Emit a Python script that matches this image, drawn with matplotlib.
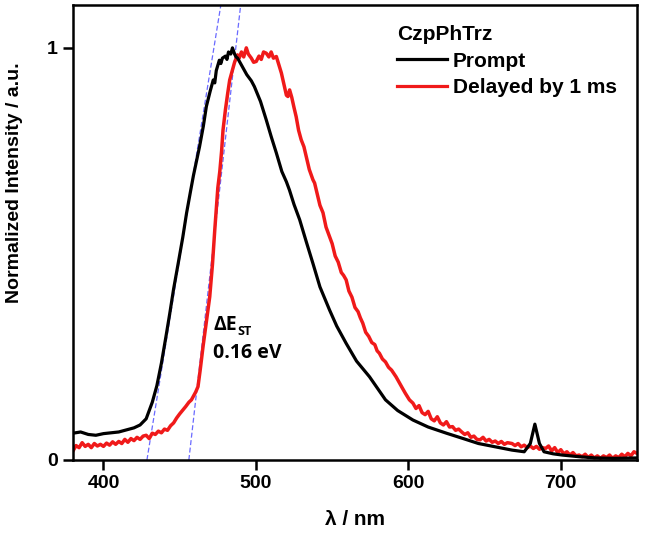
import numpy as np
import matplotlib
matplotlib.use("Agg")
from matplotlib import pyplot as plt

# prompt emission (black)
prompt_nm = [380, 385, 390, 395, 400, 405, 410, 415, 420, 424, 428, 432, 435, 438, 441,
             443.5, 446, 449, 452, 454.5, 457, 459, 461, 463, 465.5, 467.5, 470, 472, 473,
             474, 476, 477, 478, 480, 481, 482, 483.5, 484.6, 486, 487, 488, 491, 494, 497,
             499, 503, 506.8, 510, 513.4, 517, 520, 522, 525, 528.7, 533, 537.4, 542, 548.3,
             553, 559.2, 566, 574.5, 585, 593, 603, 613, 625, 636, 646, 657, 668, 676, 680,
             683, 686, 689, 695, 701, 712, 723, 735, 750]
prompt_int = [0.065, 0.068, 0.062, 0.060, 0.064, 0.066, 0.068, 0.073, 0.078, 0.085, 0.100,
              0.140, 0.180, 0.235, 0.300, 0.356, 0.415, 0.477, 0.540, 0.599, 0.650, 0.690,
              0.725, 0.760, 0.810, 0.858, 0.895, 0.922, 0.915, 0.945, 0.970, 0.962, 0.975,
              0.980, 0.972, 0.990, 0.985, 1.000, 0.985, 0.978, 0.975, 0.955, 0.935, 0.920,
              0.906, 0.870, 0.825, 0.785, 0.745, 0.700, 0.675, 0.655, 0.620, 0.583, 0.530,
              0.477, 0.420, 0.364, 0.325, 0.283, 0.240, 0.202, 0.146, 0.120, 0.097, 0.080,
              0.065, 0.052, 0.040, 0.032, 0.024, 0.020, 0.040, 0.087, 0.040, 0.020, 0.015,
              0.012, 0.008, 0.005, 0.004, 0.005]

# delayed emission, 1 ms (red)
delayed_nm = [380, 382, 384, 386, 388, 390, 392, 394, 396, 398, 400, 402, 404, 406, 408, 410,
              412, 414, 416, 418, 420, 422, 424, 426, 428, 430, 432, 434, 436, 438, 440, 442,
              444, 446, 448, 450, 452, 454, 456, 457.7, 459, 460.5, 462, 463.5, 465.3, 467.5,
              469.7, 471.5, 473, 475, 476.3, 477.5, 478.4, 480, 481.5, 482.8, 484.5, 486,
              487.9, 489, 490.5, 492, 493.7, 495, 497, 498.5, 500.2, 502, 503.5, 505, 506.8,
              508.5, 510, 511.5, 513.4, 515, 516.7, 518.5, 520, 521, 522.1, 523.5, 525, 526.4,
              528, 529.7, 531.5, 533, 535, 537.4, 538.5, 540.6, 542, 544, 546, 548.3, 550, 552,
              554, 556, 557.5, 559.2, 561, 563, 565, 567, 568.5, 570.1, 572, 574, 576, 578,
              579.5, 581, 583, 585, 587, 589, 591.9, 594, 596, 598, 600.7, 603, 605, 607, 609,
              611, 613, 615, 617, 619, 621, 623, 625, 627, 629, 631, 633, 635, 637, 639, 641,
              643, 645, 647, 649, 651, 653, 655, 657, 659, 661, 663, 665, 668, 670, 672, 674,
              676, 678, 680, 682, 684, 686, 688, 690, 692, 694, 696, 698, 700, 702, 704, 706,
              708, 710, 712, 714, 716, 718, 720, 722, 724, 726, 728, 730, 732, 734, 736, 738,
              740, 742, 744, 746, 748, 750]
delayed_int = [0.022, 0.035, 0.030, 0.042, 0.033, 0.038, 0.030, 0.040, 0.034, 0.038, 0.033,
               0.041, 0.036, 0.044, 0.038, 0.045, 0.040, 0.050, 0.043, 0.052, 0.047, 0.055,
               0.050, 0.058, 0.060, 0.052, 0.065, 0.062, 0.070, 0.066, 0.075, 0.072, 0.083,
               0.090, 0.102, 0.112, 0.121, 0.130, 0.140, 0.146, 0.155, 0.165, 0.178, 0.220,
               0.275, 0.335, 0.396, 0.475, 0.558, 0.660, 0.700, 0.750, 0.800, 0.850, 0.890,
               0.922, 0.945, 0.965, 0.983, 0.975, 0.990, 0.978, 1.000, 0.985, 0.975, 0.965,
               0.967, 0.980, 0.972, 0.990, 0.987, 0.978, 0.990, 0.975, 0.979, 0.960, 0.939,
               0.910, 0.885, 0.882, 0.898, 0.880, 0.855, 0.833, 0.800, 0.777, 0.760, 0.736,
               0.705, 0.680, 0.672, 0.639, 0.618, 0.600, 0.565, 0.542, 0.525, 0.495, 0.480,
               0.455, 0.448, 0.437, 0.410, 0.395, 0.370, 0.360, 0.345, 0.332, 0.310, 0.300,
               0.285, 0.280, 0.265, 0.259, 0.245, 0.238, 0.225, 0.218, 0.202, 0.188, 0.175,
               0.162, 0.146, 0.138, 0.125, 0.132, 0.115, 0.110, 0.118, 0.100, 0.095, 0.105,
               0.090, 0.085, 0.093, 0.080, 0.081, 0.072, 0.075, 0.068, 0.062, 0.066, 0.055,
               0.058, 0.050, 0.049, 0.055, 0.046, 0.050, 0.043, 0.046, 0.040, 0.045, 0.038,
               0.042, 0.040, 0.035, 0.040, 0.032, 0.036, 0.030, 0.034, 0.028, 0.033, 0.026,
               0.030, 0.028, 0.034, 0.022, 0.030, 0.018, 0.025, 0.015, 0.020, 0.012, 0.018,
               0.010, 0.012, 0.008, 0.014, 0.006, 0.012, 0.005, 0.010, 0.004, 0.010, 0.006,
               0.012, 0.004, 0.010, 0.006, 0.014, 0.008, 0.016, 0.010, 0.020, 0.016]

# onset tangents (x at y=0 and at top of axes)
onset_prompt_nm = [428.5, 477.0]
onset_delayed_nm = [456.0, 490.0]
y_top = 1.104

x_ticks = [400, 500, 600, 700]
y_ticks = [0, 1]

plt.rcParams['font.family'] = ['Liberation Sans', 'DejaVu Sans']
plt.rcParams['font.weight'] = 'bold'

fig = plt.figure(figsize=(6.46, 5.37), dpi=100)
ax = fig.add_axes([73 / 646, 77 / 537, 564 / 646, 455 / 537])

ax.plot(onset_prompt_nm, [0, y_top], color='#6a6aff', lw=0.9, ls=(0, (4, 2)), zorder=1)
ax.plot(onset_delayed_nm, [0, y_top], color='#6a6aff', lw=0.9, ls=(0, (4, 2)), zorder=1)
ax.plot(prompt_nm, prompt_int, color='black', lw=2.3, label='Prompt', zorder=3)
ax.plot(delayed_nm, delayed_int, color='#f01a1a', lw=2.5, label='Delayed by 1 ms', zorder=2)

ax.set_xlim(380, 750)
ax.set_ylim(0, y_top)
ax.set_xticks(x_ticks)
ax.set_yticks(y_ticks)
ax.set_yticklabels(['0', '1'])
ax.tick_params(direction='out', length=7, width=1.8, labelsize=14, pad=4)
for s in ax.spines.values():
    s.set_linewidth(1.8)

ax.set_xlabel('λ / nm', fontsize=15, fontweight='bold')
ax.set_ylabel('Normalized Intensity / a.u.', fontsize=14, fontweight='bold')
ax.xaxis.set_label_coords(0.5, -0.11)
ax.yaxis.set_label_coords(-0.088, 0.61)

ann_font = ['Open Sans', 'DejaVu Sans']
t_de = ax.text(472, 0.328, 'ΔE', fontsize=14, fontweight='bold', family=ann_font,
               va='center', ha='left')
ax.annotate('ST', xy=(1, 0), xycoords=t_de, xytext=(0.5, -2), textcoords='offset points',
            fontsize=9, fontweight='bold', family=ann_font, va='bottom', ha='left')
ax.text(472, 0.26, '0.16 eV', fontsize=14, fontweight='bold', family=ann_font,
        va='center', ha='left')

leg = ax.legend(title='CzpPhTrz', loc='upper left', bbox_to_anchor=(0.574, 0.955),
                frameon=False, fontsize=15, title_fontproperties={'size': 15, 'weight': 'bold'},
                alignment='left', handlelength=2.4, handletextpad=0.3, labelspacing=0.35,
                borderpad=0, borderaxespad=0)
for h in leg.legend_handles:
    h.set_linewidth(2.3)

fig.savefig('out.png', dpi=100)
